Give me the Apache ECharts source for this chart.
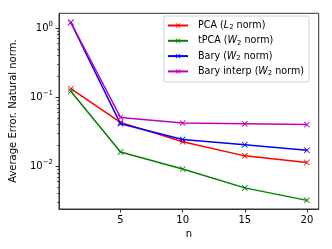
<!DOCTYPE html>
<html><head><meta charset="utf-8">
<script src="https://cdn.jsdelivr.net/npm/echarts@6/dist/echarts.min.js"></script>
<style>html,body{margin:0;padding:0;background:#fff}#c{width:332px;height:249px}</style>
</head><body><div id="c"></div>
<script>
const nValues = [1, 5, 10, 15, 20];
const pcaL2 = [0.132, 0.043, 0.0225, 0.0141, 0.0113];
const tpcaW2 = [0.121, 0.016, 0.0091, 0.00485, 0.0032];
const baryW2 = [1.2, 0.041, 0.0244, 0.0204, 0.017];
const baryInterpW2 = [1.21, 0.0508, 0.042, 0.041, 0.040];
const xTicks = [5, 10, 15, 20];
const yMajorTicks = [0.01, 0.1, 1];
const yMinorTicks = [0.003,0.004,0.005,0.006,0.007,0.008,0.009,0.02,0.03,0.04,0.05,0.06,0.07,0.08,0.09,0.2,0.3,0.4,0.5,0.6,0.7,0.8,0.9];
const seriesNames = ['PCA (L2 norm)', 'tPCA (W2 norm)', 'Bary (W2 norm)', 'Bary interp (W2 norm)'];
const seriesColors = ['#ff0000', '#008000', '#0000ff', '#bf00bf'];
const seriesData = [pcaL2, tpcaW2, baryW2, baryInterpW2];

const FONT = 'DejaVu Sans';
const X_SYMBOL = 'path://M0,1L1,0L5,4L9,0L10,1L6,5L10,9L9,10L5,6L1,10L0,9L4,5Z';
const legendRich = {
  t: {fontFamily: FONT, fontSize: 9.6, color: '#000'},
  i: {fontFamily: FONT, fontSize: 9.6, fontStyle: 'italic', color: '#000'},
  s: {fontFamily: FONT, fontSize: 6.8, color: '#000', padding: [4, 0, 0, 0]}
};
function legendFmt(name) {
  const m = name.match(/^(.*\()([LW])2( norm\))$/);
  if (!m) return '{t|' + name + '}';
  return '{t|' + m[1] + '}{i|' + m[2] + '}{s|2}{t|' + m[3] + '}';
}
const yRich = {
  b: {fontFamily: FONT, fontSize: 10, color: '#000'},
  e: {fontFamily: FONT, fontSize: 7, color: '#000', padding: [0, 0, 8, 0]}
};
const chart = echarts.init(document.getElementById('c'), null, {renderer: 'canvas'});
chart.setOption({
  animation: false,
  backgroundColor: '#fff',
  grid: {left: 56, right: 13.3, top: 13.3, bottom: 40, show: true, borderColor: '#333', borderWidth: 1, backgroundColor: 'transparent'},
  legend: {
    orient: 'vertical', left: 164, top: 16,
    data: seriesNames,
    itemWidth: 20, itemHeight: 6, itemGap: 4.8,
    padding: [4.5, 5, 5, 3],
    borderColor: '#d0d0d0', borderWidth: 1, borderRadius: 2,
    backgroundColor: 'rgba(255,255,255,0.8)',
    formatter: legendFmt,
    textStyle: {rich: legendRich, padding: [0, 0, 0, 5]}
  },
  xAxis: {
    type: 'value', min: 0.05, max: 20.95,
    name: 'n', nameLocation: 'middle', nameGap: 20,
    nameTextStyle: {fontFamily: FONT, fontSize: 10, color: '#000'},
    axisLine: {show: true, lineStyle: {color: '#333', width: 1}},
    axisTick: {show: true, length: 3.5, lineStyle: {color: '#333'}, customValues: xTicks},
    axisLabel: {fontFamily: FONT, fontSize: 10, color: '#000', margin: 6, customValues: xTicks},
    splitLine: {show: false}
  },
  yAxis: [{
    type: 'log', min: 0.0024, max: 1.63, logBase: 10,
    name: 'Average Error. Natural norm.', nameLocation: 'middle', nameGap: 41, nameRotate: 90,
    nameTextStyle: {fontFamily: FONT, fontSize: 10, color: '#000'},
    axisLine: {show: true, lineStyle: {color: '#333', width: 1}},
    axisTick: {show: true, length: 3.5, lineStyle: {color: '#333'}, customValues: yMajorTicks},
    axisLabel: {
      margin: 6, customValues: yMajorTicks,
      formatter: function (v) {
        const e = Math.round(Math.log10(v));
        return '{b|10}{e|' + (e < 0 ? '\u2212' + (-e) : e) + '}';
      },
      rich: yRich
    },
    splitLine: {show: false}
  }, {
    type: 'log', min: 0.0024, max: 1.63, logBase: 10, position: 'left',
    axisLine: {show: false},
    axisTick: {show: true, length: 2, lineStyle: {color: '#333', width: 0.8}, customValues: yMinorTicks},
    axisLabel: {show: false},
    splitLine: {show: false}
  }],
  series: seriesNames.map((name, k) => ({
    name: name, type: 'line',
    data: nValues.map((n, i) => [n, seriesData[k][i]]),
    symbol: X_SYMBOL, symbolSize: 6, showSymbol: true,
    color: seriesColors[k],
    lineStyle: {color: seriesColors[k], width: 1.5},
    itemStyle: {color: seriesColors[k]},
    z: 2 + k
  }))
});
</script></body></html>
